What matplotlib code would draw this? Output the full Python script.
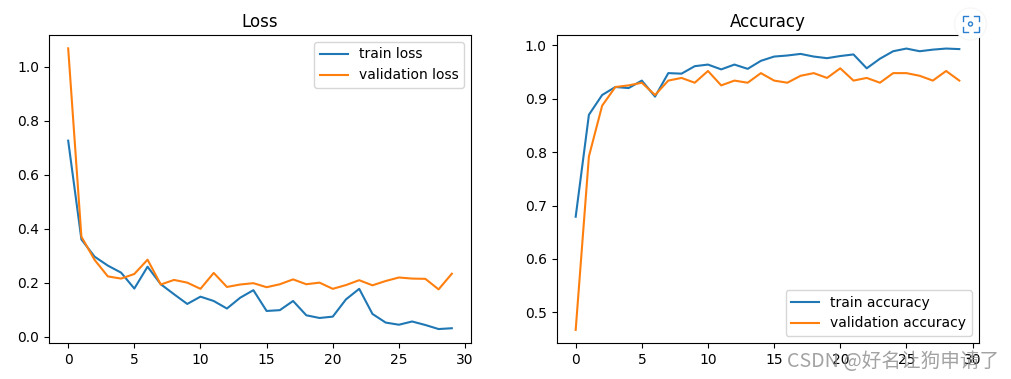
import matplotlib
matplotlib.use('Agg')
import matplotlib.pyplot as plt
from matplotlib.patches import Circle

epochs = list(range(30))

train_loss = [0.726, 0.360, 0.296, 0.263, 0.237, 0.178, 0.259, 0.194, 0.157, 0.121,
              0.148, 0.132, 0.104, 0.144, 0.172, 0.095, 0.098, 0.132, 0.079, 0.069,
              0.074, 0.138, 0.177, 0.084, 0.052, 0.044, 0.056, 0.043, 0.028, 0.031]
val_loss = [1.068, 0.370, 0.284, 0.223, 0.215, 0.232, 0.285, 0.193, 0.210, 0.200,
            0.177, 0.236, 0.184, 0.193, 0.198, 0.183, 0.194, 0.212, 0.194, 0.200,
            0.177, 0.191, 0.209, 0.190, 0.206, 0.219, 0.215, 0.214, 0.175, 0.233]
train_acc = [0.679, 0.870, 0.907, 0.922, 0.920, 0.934, 0.904, 0.948, 0.947, 0.961,
             0.964, 0.955, 0.964, 0.956, 0.971, 0.979, 0.981, 0.984, 0.979, 0.976,
             0.980, 0.983, 0.957, 0.975, 0.989, 0.994, 0.989, 0.992, 0.994, 0.993]
val_acc = [0.467, 0.792, 0.887, 0.922, 0.925, 0.930, 0.907, 0.934, 0.939, 0.930,
           0.952, 0.925, 0.934, 0.930, 0.948, 0.934, 0.930, 0.943, 0.948, 0.939,
           0.957, 0.934, 0.939, 0.930, 0.948, 0.948, 0.943, 0.934, 0.952, 0.934]

W, H = 1011, 379
fig = plt.figure(figsize=(W / 100, H / 100), dpi=100)


def add_axes_px(x0, x1, y0, y1):
    # pixel box measured from the top left of the picture
    return fig.add_axes([x0 / W, 1 - y1 / H, (x1 - x0) / W, (y1 - y0) / H])


# Loss
ax1 = add_axes_px(49, 471, 35, 343)
ax1.plot(epochs, train_loss, label='train loss')
ax1.plot(epochs, val_loss, label='validation loss')
ax1.set_xlim(-1.45, 30.45)
ax1.set_ylim(-0.0237, 1.1175)
ax1.set_xticks(range(0, 31, 5))
ax1.set_title('Loss')
ax1.legend(loc='upper right')

# Accuracy
ax2 = add_axes_px(556.5, 978.5, 35, 343)
ax2.plot(epochs, train_acc, label='train accuracy')
ax2.plot(epochs, val_acc, label='validation accuracy')
ax2.set_xlim(-1.45, 30.45)
ax2.set_ylim(0.4425, 1.0194)
ax2.set_xticks(range(0, 31, 5))
ax2.set_title('Accuracy')
ax2.legend(loc='lower right')

# Watermark over the tick labels
fig.text(787 / W, 1 - 367 / H, 'CSDN @好名让狗申请了', fontsize=14.1, color='#8c8c8c', alpha=0.8,
         family=['Noto Sans CJK SC', 'DejaVu Sans'], zorder=10)

# Screenshot button in the top right corner
bx, by = 970.5, 24
fig.add_artist(Circle((bx, H - by), 16, transform=None, facecolor='white',
                      edgecolor='#f7f7f7', linewidth=1, zorder=9))
for sx in (-1, 1):
    for sy in (-1, 1):
        xs = [bx + sx * 8, bx + sx * 8, bx + sx * 3]
        ys = [by + sy * 3, by + sy * 8, by + sy * 8]
        fig.add_artist(plt.Line2D(xs, [H - y for y in ys], transform=None, color='#2a7fd0',
                                  linewidth=1, zorder=10))
fig.add_artist(Circle((bx, H - by), 2, transform=None, facecolor='none',
                      edgecolor='#2a7fd0', linewidth=1, zorder=10))

fig.savefig('out.png', dpi=100)
